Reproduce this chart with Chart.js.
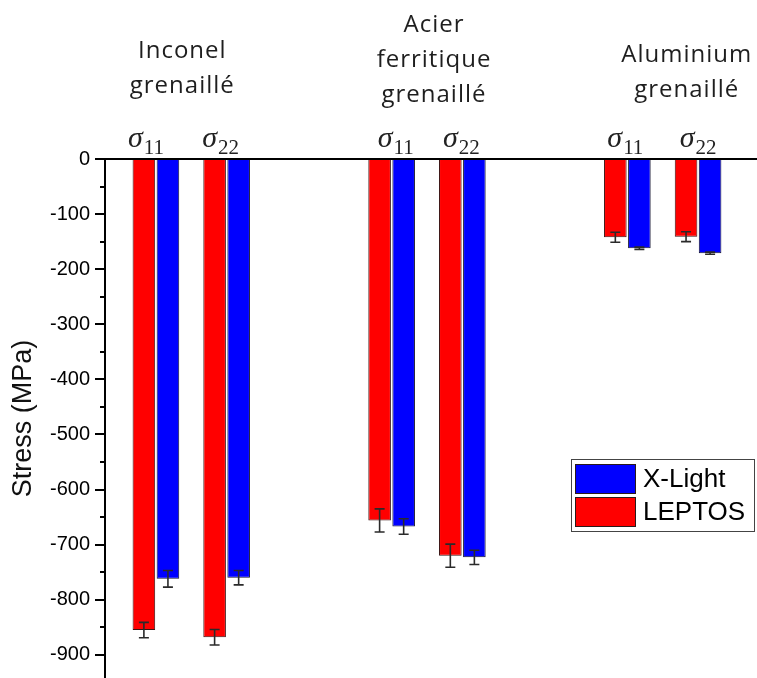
<!DOCTYPE html>
<html><head><meta charset="utf-8">
<script src="https://cdn.jsdelivr.net/npm/chart.js@4"></script>
<style>html,body{margin:0;padding:0;background:#fff;}#wrap{width:757px;height:678px;}</style>
</head><body><div id="wrap"><canvas id="c" width="757" height="678"></canvas></div>
<script>
// ---- data ----
const materials = [['Inconel','grenaillé'], ['Acier','ferritique','grenaillé'], ['Aluminium','grenaillé']];
const components = ['11', '22', '11', '22', '11', '22'];
const seriesNames = ['LEPTOS', 'X-Light'];
const leptos    = [-855, -868, -656, -720, -142, -141];
const leptosErr = [14, 14, 21, 21, 9, 9];
const xlight    = [-762, -760, -667, -723, -162, -171];
const xlightErr = [15, 13, 14, 13, 2, 2];
const yTickStep = 100;

// ---- layout helpers (category index -> axis position) ----
const MAT_GAP = 10, COMP_GAP = 3;
const pos = i => Math.floor(i / 2) * MAT_GAP + (i % 2) * COMP_GAP;
const errs = [leptosErr, xlightErr];

const overlay = {
  id: 'overlay',
  afterDatasetsDraw(chart) {
    const {ctx, chartArea} = chart;
    const ys = chart.scales.y;
    ctx.save();
    ctx.strokeStyle = '#2a2a2a';
    ctx.lineWidth = 1.6;
    chart.data.datasets.forEach((ds, d) => {
      const meta = chart.getDatasetMeta(d);
      meta.data.forEach((el, i) => {
        const v = ds.data[i].y, e = errs[d][i];
        const y1 = ys.getPixelForValue(v + e), y2 = ys.getPixelForValue(v - e);
        const x = el.x;
        ctx.beginPath();
        ctx.moveTo(x, y1); ctx.lineTo(x, y2);
        ctx.moveTo(x - 5, y1); ctx.lineTo(x + 5, y1);
        ctx.moveTo(x - 5, y2); ctx.lineTo(x + 5, y2);
        ctx.stroke();
      });
    });
    const y0 = Math.round(ys.getPixelForValue(0));
    ctx.strokeStyle = '#000';
    ctx.lineWidth = 2;
    ctx.beginPath();
    ctx.moveTo(chartArea.left - 10, y0); ctx.lineTo(chartArea.right, y0);
    ctx.stroke();
    ctx.restore();
  },
  afterDraw(chart) {
    const {ctx, chartArea} = chart;
    const xs = chart.scales.x, ys = chart.scales.y;
    ctx.save();
    ctx.strokeStyle = '#000';
    ctx.lineWidth = 2;
    for (let v = -yTickStep / 2; v >= ys.min; v -= yTickStep) {
      const y = Math.round(ys.getPixelForValue(v));
      ctx.beginPath();
      ctx.moveTo(chartArea.left - 5, y); ctx.lineTo(chartArea.left, y);
      ctx.stroke();
    }
    // sigma labels
    const sigNudge = [-10, -6, 4, -1, -2, 0];
    ctx.fillStyle = '#222';
    ctx.textBaseline = 'alphabetic';
    components.forEach((c, i) => {
      const cx = xs.getPixelForValue(pos(i)) + sigNudge[i];
      ctx.font = 'italic 30px "Liberation Serif"';
      const w1 = ctx.measureText('σ').width;
      ctx.font = '21px "Liberation Serif"';
      const w2 = ctx.measureText(c).width;
      const x0 = cx - (w1 + w2 + 1) / 2;
      ctx.font = 'italic 30px "Liberation Serif"';
      ctx.textAlign = 'left';
      ctx.fillText('σ', x0, 147);
      ctx.font = '21px "Liberation Serif"';
      ctx.fillText(c, x0 + w1 + 1, 154);
    });
    // material labels
    const matNudge = [-9, 7, 24];
    const lastBase = [93, 102, 97];
    ctx.font = '24px "Open Sans"';
    try { ctx.letterSpacing = '1px'; } catch (e) {}
    ctx.textAlign = 'center';
    ctx.fillStyle = '#1e1e1e';
    materials.forEach((lines, m) => {
      const cx = (xs.getPixelForValue(pos(2 * m)) + xs.getPixelForValue(pos(2 * m + 1))) / 2 + matNudge[m];
      lines.forEach((t, k) => {
        const y = lastBase[m] - (lines.length - 1 - k) * 35;
        ctx.fillText(t, cx, y);
      });
    });
    try { ctx.letterSpacing = '0px'; } catch (e) {}
    // legend
    const lx = 571, ly = 459, lw = 183, lh = 72;
    ctx.fillStyle = '#fff';
    ctx.fillRect(lx, ly, lw, lh);
    ctx.strokeStyle = '#444';
    ctx.lineWidth = 1;
    ctx.strokeRect(lx + 0.5, ly + 0.5, lw, lh);
    const order = [1, 0];
    ctx.font = '26px "Liberation Sans"';
    ctx.textAlign = 'left';
    ctx.textBaseline = 'middle';
    order.forEach((d, k) => {
      const ds = chart.data.datasets[d];
      const sy = ly + 5 + k * 33;
      ctx.fillStyle = ds.backgroundColor;
      ctx.fillRect(575, sy, 61, 30);
      ctx.strokeStyle = '#2a1a1a';
      ctx.strokeRect(575.5, sy + 0.5, 60, 29);
      ctx.fillStyle = '#000';
      ctx.fillText(ds.label, 643, sy + 16);
    });
    ctx.restore();
  }
};

new Chart(document.getElementById('c'), {
  type: 'bar',
  data: {
    datasets: [
      { label: seriesNames[0], data: leptos.map((v, i) => ({x: pos(i), y: v})),
        backgroundColor: '#ff0000', borderColor: '#3a1212', borderWidth: 1 },
      { label: seriesNames[1], data: xlight.map((v, i) => ({x: pos(i), y: v})),
        backgroundColor: '#0000ff', borderColor: '#141430', borderWidth: 1 }
    ]
  },
  options: {
    responsive: false,
    animation: false,
    layout: { padding: { top: 159, left: 0, right: 0, bottom: 0 } },
    datasets: { bar: { categoryPercentage: 0.68, barPercentage: 0.94 } },
    plugins: { legend: { display: false }, tooltip: { enabled: false } },
    scales: {
      x: { type: 'linear', display: false, offset: false, min: -2.16, max: 25.5,
           ticks: { stepSize: 1000, includeBounds: false }, grid: { display: false } },
      y: { type: 'linear', position: 'left', min: -942, max: 0,
           ticks: { stepSize: yTickStep, includeBounds: false, color: '#000',
                    font: { family: 'Liberation Sans', size: 20 }, padding: 5 },
           grid: { drawOnChartArea: true, color: 'rgba(0,0,0,0)', tickColor: '#000',
                   tickLength: 10, tickWidth: 2, lineWidth: 2 },
           border: { display: true, color: '#000', width: 2 },
           title: { display: true, text: 'Stress (MPa)', color: '#111',
                    font: { family: 'Liberation Sans', size: 27 }, padding: { top: 7, bottom: 0 } },
           afterFit: s => { s.width = 105; s.paddingTop = 0; s.paddingBottom = 0; } }
    }
  },
  plugins: [overlay]
});
</script>
</body></html>
